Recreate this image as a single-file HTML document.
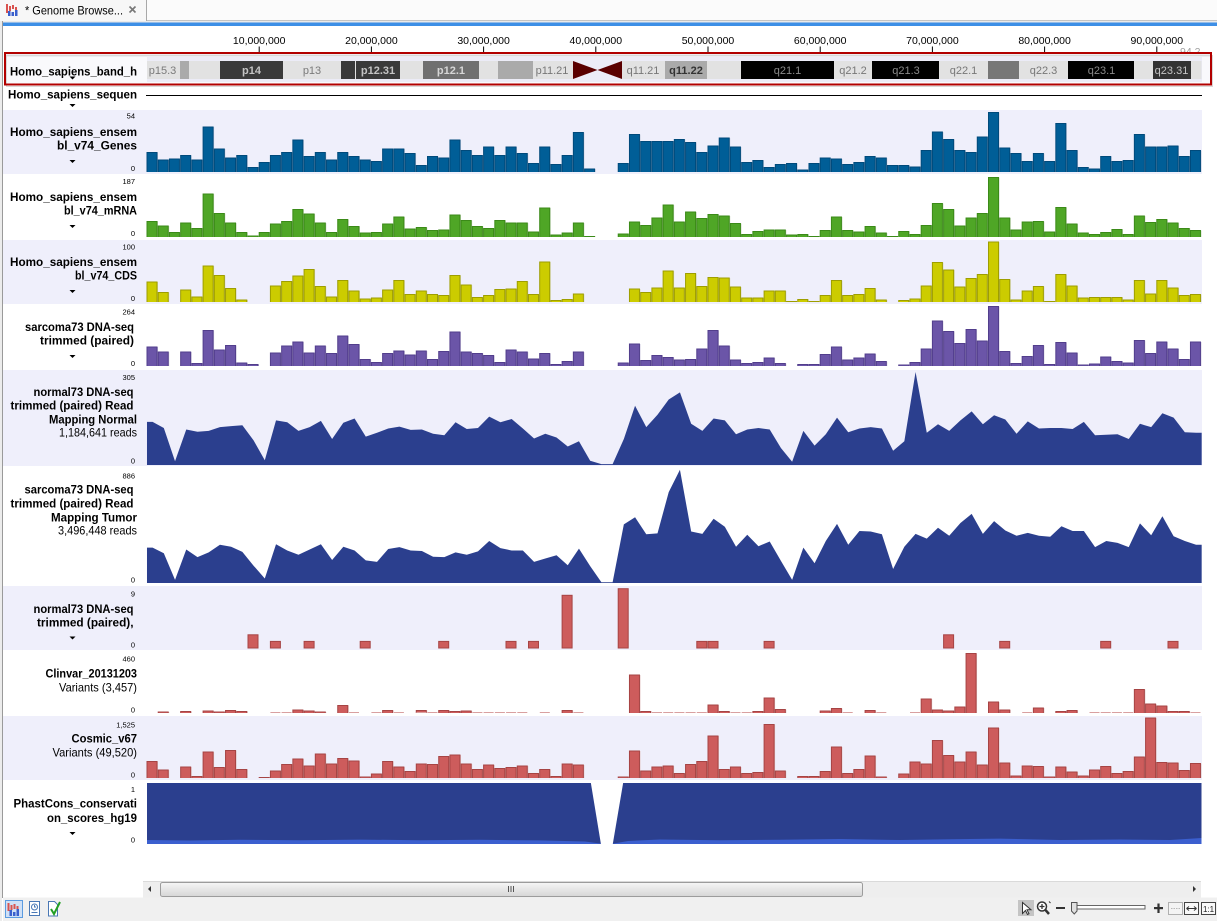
<!DOCTYPE html>
<html><head><meta charset="utf-8">
<style>
html,body{margin:0;padding:0;background:#fff;overflow:hidden;}
svg{display:block;}
text{font-family:"Liberation Sans",Arial,sans-serif;}
.lb{font-size:12px;font-weight:bold;fill:#000;text-anchor:end;}
.ln{font-size:12px;fill:#000;text-anchor:end;}
.sc{font-size:7.5px;fill:#000;text-anchor:end;}
.ax{font-size:10.5px;fill:#000;text-anchor:middle;}
.bd{font-size:11px;text-anchor:middle;}
</style></head>
<body>
<svg width="1217" height="921" viewBox="0 0 1217 921" xmlns="http://www.w3.org/2000/svg">
<defs>
<linearGradient id="thumb" x1="0" y1="0" x2="0" y2="1"><stop offset="0" stop-color="#f6f6f6"/><stop offset="1" stop-color="#d6d6d6"/></linearGradient>
<path id="pG" d="M147 172v-19.5h10V172m1.22 0v-12h10V172m1.22 0v-13h10V172m1.22 0v-16.5h10V172m1.22 0v-12h10V172m1.22 0v-45h10V172m1.22 0v-23h10V172m1.22 0v-14h10V172m1.22 0v-16.5h10V172m1.22 0v-4.5h10V172m1.22 0
v-9.5h10V172m1.22 0v-16.5h10V172m1.22 0v-19.5h10V172m1.22 0v-32h10V172m1.22 0v-15.5h10V172m1.22 0v-19.5h10V172m1.22 0v-12h10V172m1.22 0v-19.5h10V172m1.22 0v-15.5h10V172m1.22 0v-12h10V172m1.22 0
v-10.5h10V172m1.22 0v-23h10V172m1.22 0v-23h10V172m1.22 0v-18.5h10V172m1.22 0v-6.5h10V172m1.22 0v-15.5h10V172m1.22 0v-14h10V172m1.22 0v-32h10V172m1.22 0v-21.5h10V172m1.22 0v-16.5h10V172m1.22 0
v-25h10V172m1.22 0v-16.5h10V172m1.22 0v-25h10V172m1.22 0v-18.5h10V172m1.22 0v-8.5h10V172m1.22 0v-25h10V172m1.22 0v-7.5h10V172m1.22 0v-16.5h10V172m1.22 0v-39.5h10V172m1.22 0v-3h10V172m1.22 0
m22.44 0v-8.5h10V172m1.22 0v-37.5h10V172m1.22 0v-30.5h10V172m1.22 0v-30.5h10V172m1.22 0v-30.5h10V172m1.22 0v-32.5h10V172m1.22 0v-29.5h10V172m1.22 0v-19.5h10V172m1.22 0
v-26h10V172m1.22 0v-34h10V172m1.22 0v-25h10V172m1.22 0v-9.5h10V172m1.22 0v-11.5h10V172m1.22 0v-4.5h10V172m1.22 0v-7.5h10V172m1.22 0v-8.5h10V172m1.22 0v-2h10V172m1.22 0v-8.5h10V172m1.22 0
v-14h10V172m1.22 0v-13h10V172m1.22 0v-7.5h10V172m1.22 0v-9.5h10V172m1.22 0v-15.5h10V172m1.22 0v-14h10V172m1.22 0v-6.5h10V172m1.22 0v-6.5h10V172m1.22 0v-5h10V172m1.22 0v-21.5h10V172m1.22 0
v-40h10V172m1.22 0v-32.5h10V172m1.22 0v-21.5h10V172m1.22 0v-19.5h10V172m1.22 0v-35h10V172m1.22 0v-59.5h10V172m1.22 0v-24h10V172m1.22 0v-18.5h10V172m1.22 0v-10.5h10V172m1.22 0v-18.5h10V172m1.22 0
v-10.5h10V172m1.22 0v-48.5h10V172m1.22 0v-21.5h10V172m1.22 0v-4.5h10V172m1.22 0v-3h10V172m1.22 0v-15.5h10V172m1.22 0v-10.5h10V172m1.22 0v-11.5h10V172m1.22 0v-37.5h10V172m1.22 0v-25h10V172m1.22 0
v-25h10V172m1.22 0v-26h10V172m1.22 0v-15.5h10V172m1.22 0v-21.5h10V172"/>
<path id="pM" d="M147 237v-15.5h10V237m1.22 0v-11h10V237m1.22 0v-4.5h10V237m1.22 0v-14h10V237m1.22 0v-8.5h10V237m1.22 0v-43h10V237m1.22 0v-23.5h10V237m1.22 0v-14h10V237m1.22 0v-4.5h10V237m1.22 0v-1h10V237m1.22 0
v-4.5h10V237m1.22 0v-13h10V237m1.22 0v-15.5h10V237m1.22 0v-27.5h10V237m1.22 0v-23h10V237m1.22 0v-14h10V237m1.22 0v-4.5h10V237m1.22 0v-17.5h10V237m1.22 0v-10.5h10V237m1.22 0v-4h10V237m1.22 0
v-4.5h10V237m1.22 0v-13h10V237m1.22 0v-20h10V237m1.22 0v-8h10V237m1.22 0v-9.5h10V237m1.22 0v-6.5h10V237m1.22 0v-7h10V237m1.22 0v-22h10V237m1.22 0v-16.5h10V237m1.22 0v-10.5h10V237m1.22 0
v-8.5h10V237m1.22 0v-16.5h10V237m1.22 0v-14h10V237m1.22 0v-14h10V237m1.22 0v-5h10V237m1.22 0v-29h10V237m1.22 0v-2h10V237m1.22 0v-4h10V237m1.22 0v-14h10V237m1.22 0v-0.5h10V237m1.22 0
m22.44 0v-3h10V237m1.22 0v-15h10V237m1.22 0v-11.5h10V237m1.22 0v-19h10V237m1.22 0v-32h10V237m1.22 0v-15h10V237m1.22 0v-25h10V237m1.22 0v-18.5h10V237m1.22 0
v-22.5h10V237m1.22 0v-21h10V237m1.22 0v-13.5h10V237m1.22 0v-2.5h10V237m1.22 0v-5.5h10V237m1.22 0v-7h10V237m1.22 0v-7h10V237m1.22 0v-2h10V237m1.22 0v-2.5h10V237m1.22 0v-0.5h10V237m1.22 0
v-6.5h10V237m1.22 0v-20h10V237m1.22 0v-6.5h10V237m1.22 0v-5h10V237m1.22 0v-10.5h10V237m1.22 0v-4h10V237m1.22 0v-0.5h10V237m1.22 0v-5.5h10V237m1.22 0v-2.5h10V237m1.22 0v-11.5h10V237m1.22 0
v-33.5h10V237m1.22 0v-27.5h10V237m1.22 0v-11h10V237m1.22 0v-19h10V237m1.22 0v-23.5h10V237m1.22 0v-59.5h10V237m1.22 0v-19h10V237m1.22 0v-7h10V237m1.22 0v-15h10V237m1.22 0v-15.5h10V237m1.22 0
v-5h10V237m1.22 0v-29.5h10V237m1.22 0v-13h10V237m1.22 0v-4h10V237m1.22 0v-2.5h10V237m1.22 0v-4.5h10V237m1.22 0v-7.5h10V237m1.22 0v-2.5h10V237m1.22 0v-21h10V237m1.22 0v-14.5h10V237m1.22 0
v-17.5h10V237m1.22 0v-14h10V237m1.22 0v-8.5h10V237m1.22 0v-6.5h10V237"/>
<path id="pC" d="M147 302v-20h10V302m1.22 0v-9.5h10V302m1.22 0m11.22 0v-12h10V302m1.22 0v-5h10V302m1.22 0v-36h10V302m1.22 0v-26.5h10V302m1.22 0v-13.5h10V302m1.22 0v-2h10V302m1.22 0
m22.44 0v-16h10V302m1.22 0v-20.5h10V302m1.22 0v-26h10V302m1.22 0v-32.5h10V302m1.22 0v-15.5h10V302m1.22 0v-5h10V302m1.22 0v-21.5h10V302m1.22 0v-11h10V302m1.22 0v-3h10V302m1.22 0
v-4h10V302m1.22 0v-12h10V302m1.22 0v-21.5h10V302m1.22 0v-7.5h10V302m1.22 0v-11h10V302m1.22 0v-7.5h10V302m1.22 0v-6.5h10V302m1.22 0v-26.5h10V302m1.22 0v-17h10V302m1.22 0v-4.5h10V302m1.22 0
v-6.5h10V302m1.22 0v-12.5h10V302m1.22 0v-13h10V302m1.22 0v-20.5h10V302m1.22 0v-7.5h10V302m1.22 0v-40h10V302m1.22 0v-1.5h10V302m1.22 0v-2.5h10V302m1.22 0v-8h10V302m1.22 0
m44.88 0v-13h10V302m1.22 0v-9.5h10V302m1.22 0v-14h10V302m1.22 0v-31h10V302m1.22 0v-14h10V302m1.22 0v-28.5h10V302m1.22 0v-15.5h10V302m1.22 0
v-24.5h10V302m1.22 0v-24h10V302m1.22 0v-15h10V302m1.22 0v-4h10V302m1.22 0v-4h10V302m1.22 0v-11h10V302m1.22 0v-11h10V302m1.22 0v-0.5h10V302m1.22 0v-2.5h10V302m1.22 0v-0.5h10V302m1.22 0
v-6.5h10V302m1.22 0v-21.5h10V302m1.22 0v-6.5h10V302m1.22 0v-7.5h10V302m1.22 0v-13.5h10V302m1.22 0v-2h10V302m1.22 0m11.22 0v-1.5h10V302m1.22 0v-3h10V302m1.22 0v-16h10V302m1.22 0
v-39.5h10V302m1.22 0v-32h10V302m1.22 0v-15h10V302m1.22 0v-23.5h10V302m1.22 0v-27.5h10V302m1.22 0v-60h10V302m1.22 0v-22.5h10V302m1.22 0v-2h10V302m1.22 0v-11h10V302m1.22 0v-15.5h10V302m1.22 0
v-0.5h10V302m1.22 0v-27.5h10V302m1.22 0v-16h10V302m1.22 0v-4h10V302m1.22 0v-4.5h10V302m1.22 0v-4.5h10V302m1.22 0v-4.5h10V302m1.22 0v-2h10V302m1.22 0v-21.5h10V302m1.22 0v-8h10V302m1.22 0
v-21.5h10V302m1.22 0v-14h10V302m1.22 0v-6.5h10V302m1.22 0v-7.5h10V302"/>
<path id="pS" d="M147 366v-19h10V366m1.22 0v-14h10V366m1.22 0m11.22 0v-14h10V366m1.22 0v-2.5h10V366m1.22 0v-35.5h10V366m1.22 0v-16h10V366m1.22 0v-20.5h10V366m1.22 0v-3h10V366m1.22 0v-1.5h10V366m1.22 0
m11.22 0v-13h10V366m1.22 0v-20h10V366m1.22 0v-24h10V366m1.22 0v-13h10V366m1.22 0v-20h10V366m1.22 0v-12.5h10V366m1.22 0v-30h10V366m1.22 0v-21.5h10V366m1.22 0v-6.5h10V366m1.22 0
v-3.5h10V366m1.22 0v-12.5h10V366m1.22 0v-15h10V366m1.22 0v-11h10V366m1.22 0v-15h10V366m1.22 0v-6.5h10V366m1.22 0v-14.5h10V366m1.22 0v-34h10V366m1.22 0v-14h10V366m1.22 0v-12.5h10V366m1.22 0
v-10.5h10V366m1.22 0v-3.5h10V366m1.22 0v-16h10V366m1.22 0v-14h10V366m1.22 0v-7h10V366m1.22 0v-12.5h10V366m1.22 0v-1.5h10V366m1.22 0v-4.5h10V366m1.22 0v-14h10V366m1.22 0
m33.66 0v-3h10V366m1.22 0v-22h10V366m1.22 0v-5.5h10V366m1.22 0v-10.5h10V366m1.22 0v-8.5h10V366m1.22 0v-6h10V366m1.22 0v-6.5h10V366m1.22 0v-17h10V366m1.22 0
v-35.5h10V366m1.22 0v-20h10V366m1.22 0v-6h10V366m1.22 0v-2.5h10V366m1.22 0v-3.5h10V366m1.22 0v-8h10V366m1.22 0v-2.5h10V366m1.22 0m11.22 0v-1.5h10V366m1.22 0v-1.5h10V366m1.22 0
v-11.5h10V366m1.22 0v-19h10V366m1.22 0v-6h10V366m1.22 0v-8h10V366m1.22 0v-12h10V366m1.22 0v-4.5h10V366m1.22 0m11.22 0v-1h10V366m1.22 0v-3.5h10V366m1.22 0v-17h10V366m1.22 0
v-45h10V366m1.22 0v-34.5h10V366m1.22 0v-22.5h10V366m1.22 0v-36.5h10V366m1.22 0v-25h10V366m1.22 0v-59.5h10V366m1.22 0v-14.5h10V366m1.22 0v-2.5h10V366m1.22 0v-9.5h10V366m1.22 0v-20.5h10V366m1.22 0
v-1.5h10V366m1.22 0v-23.5h10V366m1.22 0v-13h10V366m1.22 0v-1h10V366m1.22 0v-2h10V366m1.22 0v-9h10V366m1.22 0v-4.5h10V366m1.22 0v-3h10V366m1.22 0v-25.5h10V366m1.22 0v-12.5h10V366m1.22 0
v-24h10V366m1.22 0v-17h10V366m1.22 0v-6.5h10V366m1.22 0v-24h10V366"/>
<path id="pV" d="M147 713m11.22 0v-1h10V713m1.22 0m11.22 0v-1.5h10V713m1.22 0m11.22 0v-2h10V713m1.22 0v-1h10V713m1.22 0v-2.5h10V713m1.22 0v-1.5h10V713m1.22 0m11.22 0
m11.22 0m11.22 0m11.22 0v-3h10V713m1.22 0v-2h10V713m1.22 0v-1h10V713m1.22 0m11.22 0v-7.5h10V713m1.22 0m11.22 0m11.22 0
m11.22 0v-2.5h10V713m1.22 0m11.22 0m11.22 0v-2.5h10V713m1.22 0m11.22 0v-2.5h10V713m1.22 0v-1.5h10V713m1.22 0v-2h10V713m1.22 0m11.22 0
m11.22 0m11.22 0m11.22 0m11.22 0m11.22 0m11.22 0m11.22 0v-2.5h10V713m1.22 0m11.22 0
m44.88 0v-38h10V713m1.22 0v-1.5h10V713m1.22 0m11.22 0m11.22 0m11.22 0m11.22 0m11.22 0
v-8h10V713m1.22 0v-1.5h10V713m1.22 0m11.22 0m11.22 0v-1.5h10V713m1.22 0v-15h10V713m1.22 0v-3.5h10V713m1.22 0m33.66 0
v-2h10V713m1.22 0v-4.5h10V713m1.22 0m11.22 0m11.22 0v-2.5h10V713m1.22 0m11.22 0m22.44 0m11.22 0v-14h10V713m1.22 0
v-3h10V713m1.22 0v-2h10V713m1.22 0v-6h10V713m1.22 0v-59.5h10V713m1.22 0m11.22 0v-11h10V713m1.22 0v-3h10V713m1.22 0m11.22 0m11.22 0v-5h10V713m1.22 0
m11.22 0v-1.5h10V713m1.22 0v-2.5h10V713m1.22 0m11.22 0m11.22 0m11.22 0m11.22 0m11.22 0v-23.5h10V713m1.22 0v-9h10V713m1.22 0
v-7h10V713m1.22 0v-1.5h10V713m1.22 0v-1.5h10V713m1.22 0"/>
<path id="pK" d="M147 778v-16.5h10V778m1.22 0v-8h10V778m1.22 0m11.22 0v-11h10V778m1.22 0v-1.5h10V778m1.22 0v-26h10V778m1.22 0v-10.5h10V778m1.22 0v-27.5h10V778m1.22 0v-8.5h10V778m1.22 0m11.22 0
v-0.5h10V778m1.22 0v-7h10V778m1.22 0v-13.5h10V778m1.22 0v-19h10V778m1.22 0v-12h10V778m1.22 0v-24h10V778m1.22 0v-14h10V778m1.22 0v-19.5h10V778m1.22 0v-17h10V778m1.22 0v-1h10V778m1.22 0
v-4h10V778m1.22 0v-16.5h10V778m1.22 0v-11h10V778m1.22 0v-6.5h10V778m1.22 0v-14h10V778m1.22 0v-13.5h10V778m1.22 0v-21.5h10V778m1.22 0v-23h10V778m1.22 0v-14h10V778m1.22 0v-8.5h10V778m1.22 0
v-13h10V778m1.22 0v-9.5h10V778m1.22 0v-10.5h10V778m1.22 0v-12h10V778m1.22 0v-4.5h10V778m1.22 0v-8.5h10V778m1.22 0v-1.5h10V778m1.22 0v-14h10V778m1.22 0v-13h10V778m1.22 0
m33.66 0v-1h10V778m1.22 0v-27h10V778m1.22 0v-7h10V778m1.22 0v-11h10V778m1.22 0v-12h10V778m1.22 0v-4.5h10V778m1.22 0v-13.5h10V778m1.22 0v-16.5h10V778m1.22 0
v-42h10V778m1.22 0v-8.5h10V778m1.22 0v-11h10V778m1.22 0v-4.5h10V778m1.22 0v-5.5h10V778m1.22 0v-53.5h10V778m1.22 0v-7h10V778m1.22 0m11.22 0v-1.5h10V778m1.22 0v-1.5h10V778m1.22 0
v-6.5h10V778m1.22 0v-31h10V778m1.22 0v-4.5h10V778m1.22 0v-8.5h10V778m1.22 0v-22h10V778m1.22 0v-1h10V778m1.22 0m11.22 0v-4h10V778m1.22 0v-16h10V778m1.22 0v-14h10V778m1.22 0
v-37.5h10V778m1.22 0v-22.5h10V778m1.22 0v-16h10V778m1.22 0v-26h10V778m1.22 0v-13h10V778m1.22 0v-50h10V778m1.22 0v-15h10V778m1.22 0v-2h10V778m1.22 0v-12h10V778m1.22 0v-11.5h10V778m1.22 0
v-1h10V778m1.22 0v-11h10V778m1.22 0v-6h10V778m1.22 0v-2h10V778m1.22 0v-8h10V778m1.22 0v-11.5h10V778m1.22 0v-4.5h10V778m1.22 0v-6.5h10V778m1.22 0v-21h10V778m1.22 0v-60h10V778m1.22 0
v-15.5h10V778m1.22 0v-15h10V778m1.22 0v-7.5h10V778m1.22 0v-14.5h10V778"/>
</defs>

<!-- window chrome -->
<rect x="0" y="0" width="1217" height="921" fill="#ffffff"/>
<rect x="0" y="0" width="1217" height="21" fill="#fbfbfb"/>
<line x1="146" y1="20.5" x2="1217" y2="20.5" stroke="#c4c4c4"/>
<rect x="0" y="0" width="146.5" height="21" fill="#f7f7f7"/>
<line x1="146.5" y1="0" x2="146.5" y2="21" stroke="#a8a8a8"/>
<rect x="0" y="21" width="1217" height="2" fill="#eaeaea"/>
<rect x="3" y="22.5" width="1214" height="3.5" fill="#3d8fe6"/>
<rect x="6" y="4" width="2" height="9" fill="#d9534f"/>
<rect x="9" y="6" width="2" height="5" fill="#d9534f"/>
<rect x="12" y="5" width="2" height="4" fill="#d9534f"/>
<rect x="15" y="7" width="2" height="4" fill="#d9534f"/>
<rect x="8" y="11" width="2.5" height="5" fill="#3a5fcd"/>
<rect x="11.5" y="12" width="2.5" height="4" fill="#3a5fcd"/>
<rect x="15" y="10" width="2.5" height="6" fill="#3a5fcd"/>
<text x="25" y="14.5" textLength="98" lengthAdjust="spacingAndGlyphs" style="font-size:12px;fill:#000;">* Genome Browse...</text>
<path d="M129.5 6.5l6 6M135.5 6.5l-6 6" stroke="#777" stroke-width="1.6"/>
<rect x="0" y="21" width="2" height="900" fill="#ececec"/>
<line x1="2.5" y1="21" x2="2.5" y2="898" stroke="#9a9a9a"/>

<!-- track backgrounds -->
<rect x="3" y="110" width="1199" height="64" fill="#efeffb"/>
<rect x="3" y="240" width="1199" height="64" fill="#efeffb"/>
<rect x="3" y="370" width="1199" height="96" fill="#efeffb"/>
<rect x="3" y="586" width="1199" height="64" fill="#efeffb"/>
<rect x="3" y="716" width="1199" height="64" fill="#efeffb"/>

<!-- axis -->
<g>
<text class="ax" x="259.2" y="44">10,000,000</text>
<text class="ax" x="371.4" y="44">20,000,000</text>
<text class="ax" x="483.6" y="44">30,000,000</text>
<text class="ax" x="595.8" y="44">40,000,000</text>
<text class="ax" x="708" y="44">50,000,000</text>
<text class="ax" x="820.2" y="44">60,000,000</text>
<text class="ax" x="932.4" y="44">70,000,000</text>
<text class="ax" x="1044.6" y="44">80,000,000</text>
<text class="ax" x="1156.8" y="44">90,000,000</text>
<path d="M259.2 46.5V53M371.4 46.5V53M483.6 46.5V53M595.8 46.5V53M708 46.5V53M820.2 46.5V53M932.4 46.5V53M1044.6 46.5V53M1156.8 46.5V53" stroke="#000" stroke-width="1"/>
<text x="1180" y="55" style="font-size:10.5px;fill:#a0a0a0;">94,2</text>
</g>

<!-- band track -->
<rect x="6" y="54" width="1204" height="30" fill="#f9f9fc"/>
<rect x="6" y="54" width="1204" height="3" fill="#ececf0"/>
<rect x="147" y="57" width="1055" height="25" fill="#ececf7"/>
<g>
<rect x="147" y="61" width="33" height="18" fill="#e2e2e2"/>
<rect x="180" y="61" width="9" height="18" fill="#aaaaaa"/>
<rect x="189" y="61" width="31" height="18" fill="#e2e2e2"/>
<rect x="220" y="61" width="63" height="18" fill="#3a3a3a"/>
<rect x="283" y="61" width="58" height="18" fill="#e2e2e2"/>
<rect x="341" y="61" width="14" height="18" fill="#3a3a3a"/>
<rect x="355" y="61" width="1" height="18" fill="#e2e2e2"/>
<rect x="356" y="61" width="44" height="18" fill="#3a3a3a"/>
<rect x="400" y="61" width="23" height="18" fill="#e2e2e2"/>
<rect x="423" y="61" width="56" height="18" fill="#707070"/>
<rect x="479" y="61" width="19" height="18" fill="#e2e2e2"/>
<rect x="498" y="61" width="35" height="18" fill="#aaaaaa"/>
<rect x="533" y="61" width="40" height="18" fill="#e2e2e2"/>
<polygon points="573,61 573,79 597.5,70" fill="#5a0000"/>
<polygon points="622,61 622,79 597.5,70" fill="#5a0000"/>
<rect x="622" y="61" width="43" height="18" fill="#e2e2e2"/>
<rect x="665" y="61" width="42" height="18" fill="#aaaaaa"/>
<rect x="707" y="61" width="34" height="18" fill="#e2e2e2"/>
<rect x="741" y="61" width="93" height="18" fill="#000000"/>
<rect x="834" y="61" width="38" height="18" fill="#e2e2e2"/>
<rect x="872" y="61" width="67" height="18" fill="#000000"/>
<rect x="939" y="61" width="49" height="18" fill="#e2e2e2"/>
<rect x="988" y="61" width="31" height="18" fill="#777777"/>
<rect x="1019" y="61" width="49" height="18" fill="#e2e2e2"/>
<rect x="1068" y="61" width="66" height="18" fill="#000000"/>
<rect x="1134" y="61" width="19" height="18" fill="#e2e2e2"/>
<rect x="1153" y="61" width="38" height="18" fill="#333333"/>
<rect x="1191" y="61" width="10.5" height="18" fill="#e2e2e2"/>
<text class="bd" x="162.5" y="74" fill="#7a7a7a">p15.3</text>
<text class="bd" x="251.5" y="74" fill="#c4c4c4" font-weight="bold">p14</text>
<text class="bd" x="312" y="74" fill="#7a7a7a">p13</text>
<text class="bd" x="378" y="74" fill="#c4c4c4" font-weight="bold">p12.31</text>
<text class="bd" x="451" y="74" fill="#d6d6d6" font-weight="bold">p12.1</text>
<text class="bd" x="552" y="74" fill="#777">p11.21</text>
<text class="bd" x="643" y="74" fill="#777">q11.21</text>
<text class="bd" x="686" y="74" fill="#333" font-weight="bold">q11.22</text>
<text class="bd" x="787.5" y="74" fill="#8a8a8a">q21.1</text>
<text class="bd" x="853" y="74" fill="#777">q21.2</text>
<text class="bd" x="906" y="74" fill="#8a8a8a">q21.3</text>
<text class="bd" x="963.5" y="74" fill="#777">q22.1</text>
<text class="bd" x="1043.5" y="74" fill="#777">q22.3</text>
<text class="bd" x="1101.5" y="74" fill="#8a8a8a">q23.1</text>
<text class="bd" x="1171.5" y="74" fill="#c4c4c4">q23.31</text>
</g>
<text class="lb" x="137" y="75.5" textLength="127" lengthAdjust="spacingAndGlyphs">Homo_sapiens_band_h</text>
<path d="M69.5 76.5h6l-3 3z" fill="#000"/>
<rect x="6.5" y="55.5" width="1206" height="31" fill="none" stroke="#d8d8d8" stroke-width="1"/>
<rect x="5" y="53" width="1206" height="31.5" fill="none" stroke="#b20000" stroke-width="2"/>

<!-- sequence track -->
<text class="lb" x="137" y="98.5" textLength="129" lengthAdjust="spacingAndGlyphs">Homo_sapiens_sequen</text>
<line x1="146" y1="95.5" x2="1202" y2="95.5" stroke="#000" stroke-width="1"/>
<path d="M69.5 104h6l-3 3z" fill="#000"/>

<!-- bar tracks -->
<use href="#pG" transform="translate(1 0)" fill="#c2c9dc"/>
<use href="#pG" fill="#005e97" stroke="#004a7b" stroke-width="1"/>
<use href="#pM" transform="translate(1 0)" fill="#c9d6c0"/>
<use href="#pM" fill="#4fa626" stroke="#3b8a18" stroke-width="1"/>
<use href="#pC" transform="translate(1 0)" fill="#d6d6b8"/>
<use href="#pC" fill="#cccc00" stroke="#9e9e00" stroke-width="1"/>
<use href="#pS" transform="translate(1 0)" fill="#cfcade"/>
<use href="#pS" fill="#6b55a8" stroke="#523e8c" stroke-width="1"/>
<use href="#pV" transform="translate(1 0)" fill="#e2c6c6"/>
<use href="#pV" fill="#cd5c5c" stroke="#a64444" stroke-width="1"/>
<use href="#pK" transform="translate(1 0)" fill="#e2c6c6"/>
<use href="#pK" fill="#cd5c5c" stroke="#a64444" stroke-width="1"/>
<!-- faint clinvar slivers -->
<path d="M270.4 712.5h10M281.6 712.5h10M349 712.5h10M371.4 712.5h10M393.9 712.5h10M416.3 712.5h10M427.5 712.5h10M472.4 712.5h10M483.6 712.5h10M494.9 712.5h10M506.1 712.5h10M517.3 712.5h10M539.8 712.5h10M573.4 712.5h10M652 712.5h10M663.2 712.5h10M674.4 712.5h10M685.6 712.5h10M696.8 712.5h10M730.5 712.5h10M741.7 712.5h10M842.7 712.5h10M876.3 712.5h10M910 712.5h10M1022.2 712.5h10M1089.5 712.5h10M1100.7 712.5h10M1111.9 712.5h10M1123.2 712.5h10M1190.5 712.5h10" stroke="#d9a0a0" stroke-width="1"/>

<!-- normal var bars -->
<g fill="#cd5c5c" stroke="#a64444" stroke-width="1">
<rect x="248" y="634.8" width="10" height="13.2"/>
<rect x="270.4" y="641.4" width="10" height="6.6"/>
<rect x="304.1" y="641.4" width="10" height="6.6"/>
<rect x="360.2" y="641.4" width="10" height="6.6"/>
<rect x="438.7" y="641.4" width="10" height="6.6"/>
<rect x="506" y="641.4" width="10" height="6.6"/>
<rect x="528.5" y="641.4" width="10" height="6.6"/>
<rect x="562.1" y="595.3" width="10" height="52.7"/>
<rect x="618.2" y="588.7" width="10" height="59.3"/>
<rect x="696.8" y="641.4" width="10" height="6.6"/>
<rect x="708" y="641.4" width="10" height="6.6"/>
<rect x="764.1" y="641.4" width="10" height="6.6"/>
<rect x="943.6" y="634.8" width="10" height="13.2"/>
<rect x="999.7" y="641.4" width="10" height="6.6"/>
<rect x="1100.7" y="641.4" width="10" height="6.6"/>
<rect x="1168" y="641.4" width="10" height="6.6"/>
</g>

<!-- coverage -->
<g transform="translate(152.6 0) scale(11.22 1)" fill="#2b3f8e">
<polygon points="-0.5,465 -0.5,421.9 0,421.9 1,428 2,461.3 3,429.5 4,431.8 5,430.9 6,427.1 7,426.1 8,425.2 9,440.4 10,460.3 11,420.4 12,422.3 13,430.9 14,427.1 15,420.9 16,439 17,422.8 18,418.5 19,436.6 20,432.8 21,428.5 22,426.6 23,429.9 24,429.5 25,433.7 26,435.2 27,422.3 28,429 29,428 30,416.6 31,422.3 32,419 33,428.5 34,438.5 35,433.7 36,437.5 37,446.5 38,441.3 39,460.8 40,464.1 41,464.1 42,439 43,405.7 44,427.1 45,414.7 46,399.5 47,392.4 48,423.8 49,430.9 50,418.5 51,420.4 52,434.2 53,429.5 54,428 55,429.5 56,448 57,461.7 58,430.9 59,445.6 60,434.2 61,417.6 62,432.3 63,428.5 64,427.1 65,428.5 66,450.8 67,441.3 68,372 69,432.8 70,424.2 71,430.9 72,420.4 73,411.4 74,424.2 75,415.2 76,419.5 77,433.7 78,421.4 79,428.5 80,428 81,428 82,429 83,421.9 84,435.2 85,434.7 86,434.2 87,439 88,423.8 89,427.1 90,413.3 91,417.6 92,432.3 93,432.8 93.5,432.8 93.5,465"/>
<polygon points="-0.5,583 -0.5,547.6 0,547.6 1,553.3 2,579.9 3,549.5 4,557.1 5,552.4 6,544.8 7,546.7 8,551.9 9,565.7 10,578.5 11,544.3 12,550.5 13,554.7 14,549.5 15,544.3 16,560 17,546.7 18,550.5 19,560.4 20,561.9 21,549 22,547.1 23,550.5 24,551 25,556.7 26,557.1 27,552.4 28,554.7 29,551.4 30,541 31,548.1 32,550.5 33,550.5 34,561.9 35,558.5 36,555.2 37,565.2 38,548.6 39,566.1 40,582.3 41,582.3 42,524.4 43,517.2 44,534.3 45,533.4 46,492.1 47,469.8 48,531.5 49,533.9 50,518.7 51,526.7 52,546.7 53,534.8 54,546.2 55,541.5 56,560.9 57,579.9 58,547.6 59,563.3 60,541 61,523.9 62,544.8 63,531 64,531.5 65,534.3 66,569 67,546.7 68,533.9 69,538.6 70,527.7 71,535.8 72,523 73,513.9 74,533.9 75,521.1 76,530.5 77,535.8 78,532.9 79,535.8 80,536.7 81,526.3 82,531 83,531 84,547.1 85,541 86,542.9 87,547.1 88,523.4 89,535.3 90,516.3 91,536.2 92,541 93,544.8 93.5,544.8 93.5,583"/>
</g>

<!-- PhastCons -->
<rect x="147" y="783" width="1054.5" height="61" fill="#2b3f8e"/>
<polygon points="147,840 190,840.5 240,839.8 300,840.3 360,839.6 420,840.2 480,839.8 540,840.4 585,841.5 600,843.5 614,843.5 628,841 660,839.5 720,840.2 780,839.8 840,839 900,840 950,839.3 1000,838.6 1060,840 1120,839.5 1170,840 1201.5,838 1201.5,844 147,844" fill="#3b5fcf"/>
<polygon points="590.7,782 623.3,782 612.7,844.5 601,844.5" fill="#ffffff"/>

<!-- labels -->
<text class="sc" x="135" y="118.5">54</text>
<text class="lb" x="137" y="136" textLength="127" lengthAdjust="spacingAndGlyphs">Homo_sapiens_ensem</text>
<text class="lb" x="137" y="149.5" textLength="80" lengthAdjust="spacingAndGlyphs">bl_v74_Genes</text>
<path d="M69.5 160h6l-3 3z" fill="#000"/>
<text class="sc" x="135" y="171">0</text>

<text class="sc" x="135" y="184">187</text>
<text class="lb" x="137" y="201" textLength="127" lengthAdjust="spacingAndGlyphs">Homo_sapiens_ensem</text>
<text class="lb" x="137" y="214.5" textLength="73" lengthAdjust="spacingAndGlyphs">bl_v74_mRNA</text>
<path d="M69.5 225h6l-3 3z" fill="#000"/>
<text class="sc" x="135" y="236">0</text>

<text class="sc" x="135" y="249.5">100</text>
<text class="lb" x="137" y="266" textLength="127" lengthAdjust="spacingAndGlyphs">Homo_sapiens_ensem</text>
<text class="lb" x="137" y="279.5" textLength="62" lengthAdjust="spacingAndGlyphs">bl_v74_CDS</text>
<path d="M69.5 290h6l-3 3z" fill="#000"/>
<text class="sc" x="135" y="301">0</text>

<text class="sc" x="135" y="314.5">264</text>
<text class="lb" x="134" y="331" textLength="109" lengthAdjust="spacingAndGlyphs">sarcoma73 DNA-seq</text>
<text class="lb" x="134" y="344.5" textLength="94" lengthAdjust="spacingAndGlyphs">trimmed (paired)</text>
<path d="M69.5 355h6l-3 3z" fill="#000"/>
<text class="sc" x="135" y="366">0</text>

<text class="sc" x="135" y="380">305</text>
<text class="lb" x="133.5" y="396" textLength="100" lengthAdjust="spacingAndGlyphs">normal73 DNA-seq</text>
<text class="lb" x="133.5" y="409.5" textLength="123" lengthAdjust="spacingAndGlyphs">trimmed (paired) Read</text>
<text class="lb" x="137" y="423.5" textLength="88" lengthAdjust="spacingAndGlyphs">Mapping Normal</text>
<text class="ln" x="137" y="436.5" textLength="78" lengthAdjust="spacingAndGlyphs">1,184,641 reads</text>
<text class="sc" x="135" y="463.5">0</text>

<text class="sc" x="135" y="478.5">886</text>
<text class="lb" x="133.5" y="493.5" textLength="109" lengthAdjust="spacingAndGlyphs">sarcoma73 DNA-seq</text>
<text class="lb" x="133.5" y="507.5" textLength="123" lengthAdjust="spacingAndGlyphs">trimmed (paired) Read</text>
<text class="lb" x="137" y="521.5" textLength="86" lengthAdjust="spacingAndGlyphs">Mapping Tumor</text>
<text class="ln" x="137" y="534.5" textLength="79" lengthAdjust="spacingAndGlyphs">3,496,448 reads</text>
<text class="sc" x="135" y="582.5">0</text>

<text class="sc" x="135" y="596.5">9</text>
<text class="lb" x="133.5" y="613" textLength="100" lengthAdjust="spacingAndGlyphs">normal73 DNA-seq</text>
<text class="lb" x="133.5" y="626.5" textLength="96.5" lengthAdjust="spacingAndGlyphs">trimmed (paired),</text>
<path d="M69.5 636.5h6l-3 3z" fill="#000"/>
<text class="sc" x="135" y="647.5">0</text>

<text class="sc" x="135" y="661.5">460</text>
<text class="lb" x="137" y="677.5" textLength="91.5" lengthAdjust="spacingAndGlyphs">Clinvar_20131203</text>
<text class="ln" x="137" y="691.5" textLength="78" lengthAdjust="spacingAndGlyphs">Variants (3,457)</text>
<text class="sc" x="135" y="712.5">0</text>

<text class="sc" x="135" y="727.5">1,525</text>
<text class="lb" x="137" y="742.5" textLength="65.5" lengthAdjust="spacingAndGlyphs">Cosmic_v67</text>
<text class="ln" x="137" y="756.5" textLength="84.5" lengthAdjust="spacingAndGlyphs">Variants (49,520)</text>
<text class="sc" x="135" y="777.5">0</text>

<text class="sc" x="135" y="792">1</text>
<text class="lb" x="137" y="807.5" textLength="123.5" lengthAdjust="spacingAndGlyphs">PhastCons_conservati</text>
<text class="lb" x="137" y="822" textLength="90" lengthAdjust="spacingAndGlyphs">on_scores_hg19</text>
<path d="M69.5 832h6l-3 3z" fill="#000"/>
<text class="sc" x="135" y="842.5">0</text>

<!-- scrollbar -->
<rect x="143" y="881.5" width="1058" height="16" fill="#eeeeee"/>
<line x1="143" y1="881.5" x2="1201" y2="881.5" stroke="#dadada"/>
<polygon points="148,889 151,886 151,892" fill="#333"/>
<polygon points="1196,889 1193,886 1193,892" fill="#333"/>
<rect x="160.5" y="882.5" width="702" height="14" rx="2" fill="url(#thumb)" stroke="#9c9c9c"/>
<path d="M508.5 886v6M511 886v6M513.5 886v6" stroke="#555" stroke-width="1"/>

<!-- bottom toolbar -->
<rect x="3" y="897.5" width="1214" height="23.5" fill="#f0f0f0"/>
<rect x="5.5" y="900.5" width="17" height="17" fill="#cfe0f6" stroke="#5b9be0"/>
<rect x="7.5" y="903" width="2" height="8" fill="#d9534f"/>
<rect x="10.5" y="905" width="2" height="5" fill="#d9534f"/>
<rect x="13.5" y="904" width="2" height="5" fill="#d9534f"/>
<rect x="16.5" y="906" width="2" height="4" fill="#d9534f"/>
<rect x="9.5" y="910" width="2.5" height="6" fill="#3a5fcd"/>
<rect x="13" y="912" width="2.5" height="4" fill="#3a5fcd"/>
<rect x="16.5" y="909" width="2.5" height="7" fill="#3a5fcd"/>
<rect x="29.5" y="901.5" width="10" height="14" fill="#fff" stroke="#4a78b5"/>
<circle cx="34.5" cy="907" r="3" fill="none" stroke="#4a78b5"/>
<path d="M34.5 905v2h1.5M31.5 912.5h6" stroke="#4a78b5" fill="none"/>
<path d="M48.5 901.5h6l3 3v11.5h-9z" fill="#fff" stroke="#4a78b5"/>
<path d="M51 909l3 5l6-12" stroke="#23a023" stroke-width="2" fill="none"/>

<rect x="1018" y="900" width="16" height="16" fill="#c4c4c4"/>
<path d="M1022.5 902.5v11l3-3 2 4 1.5-0.7-2-4h4z" fill="#fff" stroke="#333" stroke-width="1"/>
<circle cx="1042" cy="906.5" r="4.5" fill="#fff" stroke="#333" stroke-width="1.5"/>
<path d="M1039.5 906.5h5M1042 904v5" stroke="#333" stroke-width="1.3"/>
<path d="M1045.3 909.8l3.7 4.2" stroke="#333" stroke-width="2.5"/>
<path d="M1049 901.5l1.5 1.5" stroke="#333" stroke-width="1"/>
<rect x="1056" y="907" width="9" height="2" fill="#333"/>
<rect x="1077" y="905.5" width="68" height="3.5" fill="#fff" stroke="#666" stroke-width="1"/>
<path d="M1071.5 902.5h5.5v8.5l-2.75 3l-2.75-3z" fill="#e0e0e0" stroke="#555" stroke-width="1"/>
<rect x="1154" y="907" width="9" height="2.2" fill="#333"/>
<rect x="1157.4" y="903.5" width="2.2" height="9.5" fill="#333"/>
<rect x="1168.5" y="902.5" width="14" height="12" fill="#f4f4f4" stroke="#b0b0b0"/>
<path d="M1171 908.5h9" stroke="#b8b8b8" stroke-dasharray="1.5 1"/>
<rect x="1184.5" y="902.5" width="14" height="12" fill="#f8f8f8" stroke="#444"/>
<path d="M1186.5 908.5h10M1186.5 908.5l2.5-2M1186.5 908.5l2.5 2M1196.5 908.5l-2.5-2M1196.5 908.5l-2.5 2" stroke="#333" stroke-width="1"/>
<rect x="1201.5" y="902.5" width="14" height="12" fill="#f8f8f8" stroke="#444"/>
<text x="1208.5" y="912" style="font-size:8px;fill:#222;text-anchor:middle;">1:1</text>
</svg>
</body></html>
